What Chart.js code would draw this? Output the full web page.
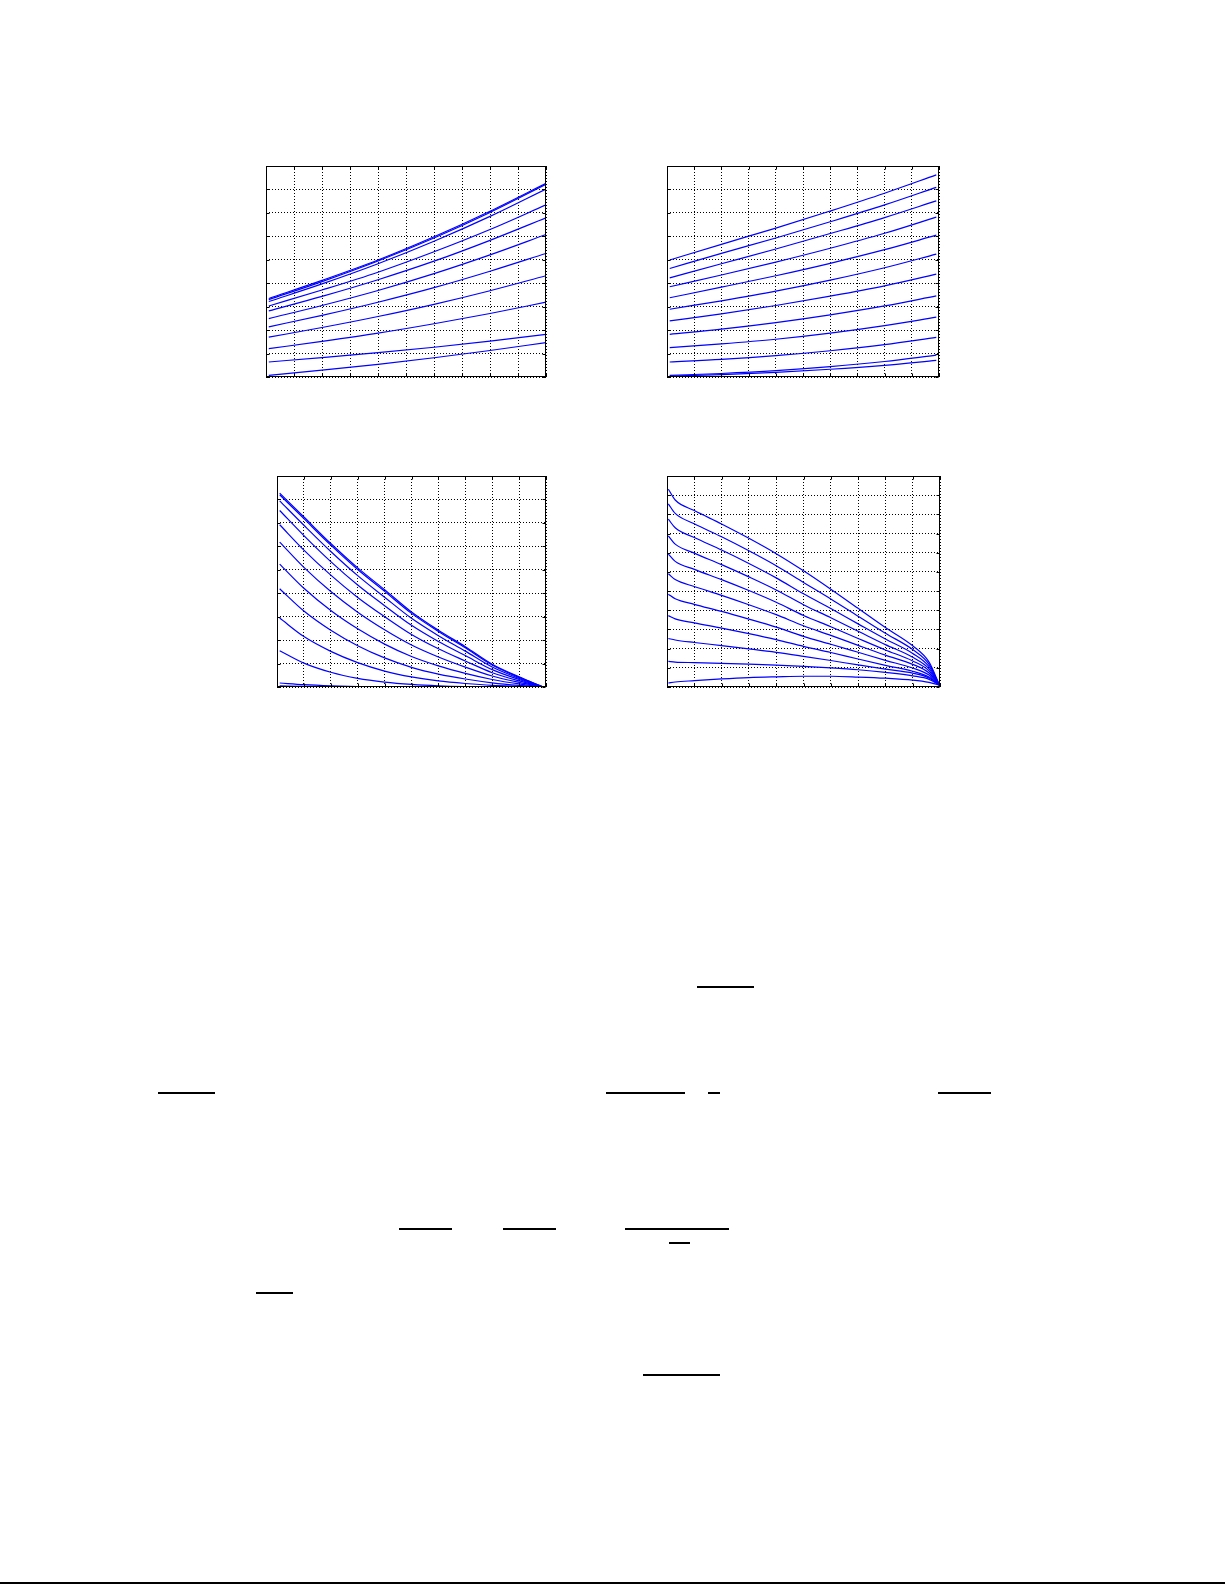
<!DOCTYPE html>
<html>
<head>
<meta charset="utf-8">
<script src="https://cdn.jsdelivr.net/npm/chart.js@4.4.1/dist/chart.umd.min.js"></script>
<style>
  html, body { margin: 0; padding: 0; background: #fff; }
  body { width: 1225px; height: 1585px; position: relative; overflow: hidden; font-family: "Liberation Serif", serif; }
  .plot { position: absolute; }
  .bar { position: absolute; height: 2px; background: #000; }
</style>
</head>
<body>

<div class="plot" id="w1"><canvas id="c1"></canvas></div>
<div class="plot" id="w2"><canvas id="c2"></canvas></div>
<div class="plot" id="w3"><canvas id="c3"></canvas></div>
<div class="plot" id="w4"><canvas id="c4"></canvas></div>

<!-- fraction bars of the page's equations -->
<div class="bar" style="left:697px; top:986px; width:57px"></div>
<div class="bar" style="left:158px; top:1092px; width:57px"></div>
<div class="bar" style="left:606px; top:1092px; width:79px"></div>
<div class="bar" style="left:708px; top:1092px; width:12px"></div>
<div class="bar" style="left:938px; top:1092px; width:53px"></div>
<div class="bar" style="left:399px; top:1228px; width:53px"></div>
<div class="bar" style="left:503px; top:1228px; width:53px"></div>
<div class="bar" style="left:625px; top:1228px; width:104px"></div>
<div class="bar" style="left:669px; top:1242px; width:21px"></div>
<div class="bar" style="left:256px; top:1292px; width:37px"></div>
<div class="bar" style="left:643px; top:1374px; width:77px"></div>
<div class="bar" style="left:0px; top:1582px; width:1225px; height:1.5px"></div>

<script>
// ---- data (grid units) ----
const p1X = [0.1, 2, 4, 6, 8, 10];
const p1Curves = [
  [3.35, 4.12, 4.99, 5.98, 7.07, 8.26],
  [3.30, 4.07, 4.95, 5.93, 7.02, 8.22],
  [3.22, 3.97, 4.83, 5.79, 6.85, 8.02],
  [3.03, 3.71, 4.47, 5.34, 6.29, 7.34],
  [2.82, 3.44, 4.15, 4.94, 5.83, 6.79],
  [2.49, 3.05, 3.69, 4.41, 5.21, 6.08],
  [2.14, 2.63, 3.19, 3.81, 4.51, 5.27],
  [1.70, 2.11, 2.58, 3.10, 3.68, 4.32],
  [1.21, 1.52, 1.87, 2.27, 2.71, 3.19],
  [0.64, 0.83, 1.04, 1.27, 1.53, 1.82],
  [0.07, 0.29, 0.54, 0.82, 1.13, 1.47]
];

const p2X = [0.1, 2, 4, 6, 8, 9.9];
const p2Curves = [
  [4.99, 5.66, 6.35, 7.08, 7.84, 8.62],
  [4.63, 5.27, 5.93, 6.62, 7.34, 8.09],
  [4.23, 4.83, 5.46, 6.12, 6.80, 7.51],
  [3.85, 4.35, 4.90, 5.49, 6.13, 6.82],
  [3.38, 3.83, 4.32, 4.85, 5.43, 6.05],
  [2.89, 3.25, 3.66, 4.13, 4.66, 5.24],
  [2.39, 2.69, 3.05, 3.45, 3.89, 4.39],
  [1.82, 2.04, 2.32, 2.65, 3.03, 3.46],
  [1.25, 1.41, 1.61, 1.87, 2.19, 2.55],
  [0.64, 0.75, 0.91, 1.12, 1.38, 1.69],
  [0.07, 0.15, 0.27, 0.44, 0.66, 0.93],
  [0.04, 0.10, 0.20, 0.33, 0.50, 0.71]
];

const p3X = [0.1, 1, 2, 3, 4, 5, 6, 7, 8, 9, 9.9];
const p3Curves = [
  [8.27, 7.25, 6.12, 5.08, 4.15, 3.20, 2.42, 1.72, 0.97, 0.43, 0],
  [8.20, 7.18, 6.05, 5.01, 4.08, 3.14, 2.37, 1.67, 0.94, 0.41, 0],
  [7.94, 6.90, 5.78, 4.75, 3.83, 2.93, 2.19, 1.53, 0.85, 0.37, 0],
  [7.53, 6.46, 5.35, 4.35, 3.47, 2.63, 1.94, 1.34, 0.74, 0.32, 0],
  [6.92, 5.84, 4.77, 3.82, 3.00, 2.24, 1.63, 1.11, 0.61, 0.26, 0],
  [6.18, 5.10, 4.07, 3.19, 2.44, 1.79, 1.28, 0.85, 0.47, 0.20, 0],
  [5.24, 4.21, 3.26, 2.48, 1.83, 1.30, 0.90, 0.58, 0.32, 0.13, 0],
  [4.19, 3.24, 2.42, 1.76, 1.24, 0.84, 0.55, 0.34, 0.18, 0.07, 0],
  [2.94, 2.15, 1.52, 1.04, 0.68, 0.43, 0.26, 0.15, 0.07, 0.03, 0],
  [1.55, 1.02, 0.63, 0.37, 0.21, 0.11, 0.05, 0.02, 0.01, 0, 0],
  [0.17, 0.10, 0.05, 0.02, 0.01, 0, 0, 0, 0, 0, 0],
  [0.05, 0.03, 0.01, 0, 0, 0, 0, 0, 0, 0, 0]
];

const p4X = [0.05, 0.3, 1, 2, 3, 4, 5, 6, 7, 8, 9, 9.6, 9.98];
const p4Curves = [
  [10.31, 9.75, 9.20, 8.50, 7.75, 6.95, 6.06, 5.10, 4.10, 3.10, 2.15, 1.30, 0.10],
  [9.55, 9.05, 8.51, 7.83, 7.10, 6.32, 5.45, 4.59, 3.69, 2.80, 1.95, 1.18, 0.10],
  [8.75, 8.30, 7.79, 7.14, 6.44, 5.69, 4.86, 4.09, 3.29, 2.50, 1.75, 1.06, 0.10],
  [7.88, 7.45, 6.98, 6.38, 5.74, 5.06, 4.29, 3.61, 2.91, 2.21, 1.55, 0.95, 0.10],
  [6.93, 6.55, 6.13, 5.60, 5.03, 4.42, 3.73, 3.14, 2.53, 1.93, 1.36, 0.84, 0.10],
  [5.90, 5.60, 5.24, 4.78, 4.29, 3.77, 3.19, 2.69, 2.17, 1.66, 1.18, 0.73, 0.10],
  [4.84, 4.60, 4.31, 3.94, 3.54, 3.12, 2.64, 2.23, 1.81, 1.39, 0.99, 0.62, 0.10],
  [3.72, 3.55, 3.34, 3.07, 2.78, 2.47, 2.12, 1.80, 1.46, 1.13, 0.82, 0.52, 0.10],
  [2.53, 2.45, 2.32, 2.16, 1.99, 1.81, 1.60, 1.38, 1.15, 0.93, 0.72, 0.47, 0.10],
  [1.34, 1.30, 1.27, 1.23, 1.19, 1.14, 1.08, 1.00, 0.90, 0.76, 0.58, 0.40, 0.10],
  [0.21, 0.26, 0.33, 0.42, 0.49, 0.53, 0.56, 0.56, 0.52, 0.46, 0.36, 0.24, 0.10]
];

// axis ranges of each panel (grid divisions)
const xMax = 10;
const yMaxTop = 9;
const yMaxBottomRight = 11;

// box + inward tick marks, matlab style
const framePlugin = {
  id: 'frame',
  afterDraw(chart) {
    const { ctx, chartArea: a, scales } = chart;
    ctx.save();
    ctx.strokeStyle = '#000';
    ctx.lineWidth = 1;
    ctx.setLineDash([]);
    const L = Math.round(a.left) + 0.5, R = Math.round(a.right) - 0.5;
    const T = Math.round(a.top) + 0.5, B = Math.round(a.bottom) - 0.5;
    ctx.strokeRect(L, T, R - L, B - T);
    ctx.beginPath();
    scales.x.ticks.forEach(t => {
      const px = Math.round(scales.x.getPixelForValue(t.value)) + 0.5;
      ctx.moveTo(px, B); ctx.lineTo(px, B - 3);
      ctx.moveTo(px, T); ctx.lineTo(px, T + 3);
    });
    scales.y.ticks.forEach(t => {
      const py = Math.round(scales.y.getPixelForValue(t.value)) + 0.5;
      ctx.moveTo(L, py); ctx.lineTo(L + 3, py);
      ctx.moveTo(R, py); ctx.lineTo(R - 3, py);
    });
    ctx.stroke();
    ctx.restore();
  }
};

const PAD = 5;

function makePlot(id, wrapId, box, xs, curves, yMax) {
  const wrap = document.getElementById(wrapId);
  wrap.style.left = (box.left - PAD) + 'px';
  wrap.style.top = (box.top - PAD) + 'px';
  const canvas = document.getElementById(id);
  canvas.width = box.width + 2 * PAD;
  canvas.height = box.height + 2 * PAD;

  const datasets = curves.map(vals => ({
    data: xs.map((x, i) => ({ x: x, y: vals[i] })),
    borderColor: '#0000ff',
    borderWidth: 1.2,
    pointRadius: 0,
    fill: false,
    cubicInterpolationMode: 'monotone'
  }));

  const axis = (max) => ({
    type: 'linear',
    min: 0,
    max: max,
    ticks: { display: false, stepSize: 1 },
    grid: { color: '#000', lineWidth: 1, drawTicks: false },
    border: { display: false, dash: [1, 2] }
  });

  new Chart(canvas.getContext('2d'), {
    type: 'line',
    data: { datasets: datasets },
    options: {
      responsive: false,
      animation: false,
      layout: { padding: PAD },
      plugins: { legend: { display: false }, tooltip: { enabled: false } },
      scales: { x: axis(xMax), y: axis(yMax) }
    },
    plugins: [framePlugin]
  });
}

makePlot('c1', 'w1', { left: 266, top: 166, width: 280, height: 211 }, p1X, p1Curves, yMaxTop);
makePlot('c2', 'w2', { left: 667, top: 166, width: 272, height: 211 }, p2X, p2Curves, yMaxTop);
makePlot('c3', 'w3', { left: 277, top: 476, width: 269, height: 211 }, p3X, p3Curves, yMaxTop);
makePlot('c4', 'w4', { left: 667, top: 476, width: 273, height: 211 }, p4X, p4Curves, yMaxBottomRight);
</script>
</body>
</html>
